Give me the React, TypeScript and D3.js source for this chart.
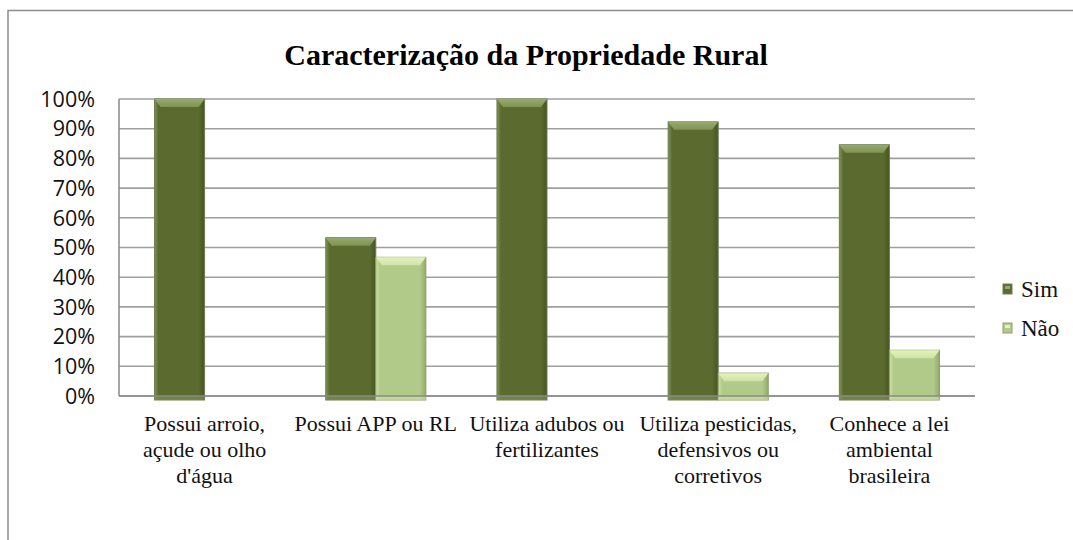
import React from 'react';
import * as d3 from 'd3';

// chart data
const categories = [
  "Possui arroio,\naçude ou olho\nd'água",
  'Possui APP ou RL',
  'Utiliza adubos ou\nfertilizantes',
  'Utiliza pesticidas,\ndefensivos ou\ncorretivos',
  'Conhece a lei\nambiental\nbrasileira'
];
const seriesNames = ['Sim', 'Não'];
const simValues = [100, 53.3, 100, 92.3, 84.6];
const naoValues = [0, 46.7, 0, 7.7, 15.4];
const yTicks = [0, 10, 20, 30, 40, 50, 60, 70, 80, 90, 100];

const W = 1073;
const H = 540;
const margin = { top: 99, left: 119, right: 98, bottom: 144 };

const palette = [
  { main: '#5b6b2f', edge: '#46551f', light: '#7f9352', top: '#97aa70', outline: '#6f7d55' },
  { main: '#b1ca8a', edge: '#93ab6a', light: '#cfe3a6', top: '#e4f3bb', outline: '#8e9f6c' }
];

const App: React.FC = () => {
  const x0 = d3.scaleBand<number>().domain(d3.range(categories.length)).range([margin.left, W - margin.right]).padding(0);
  const x1 = d3.scaleBand<number>().domain([0, 1]).range([0, x0.bandwidth()]).paddingInner(0).paddingOuter(0.71);
  const y = d3.scaleLinear().domain([0, 100]).range([H - margin.bottom, margin.top]);
  const y0 = y(0);
  const series = [simValues, naoValues];

  const bar = (v: number, ci: number, si: number) => {
    if (v <= 0) return null;
    const c = palette[si];
    const bx = (x0(ci) || 0) + (x1(si) || 0);
    const bw = x1.bandwidth();
    const top = y(v);
    const bottom = y0 + 4;
    const bev = 8;
    return <g key={`${ci}-${si}`}>
        <rect x={bx} y={top} width={bw} height={bottom - top} fill={`url(#grad${si})`} stroke={c.outline} strokeWidth={1} />
        <polygon points={`${bx},${top} ${bx + bw},${top} ${bx + bw - 6},${top + bev} ${bx + 6},${top + bev}`} fill={`url(#top${si})`} />
        <rect x={bx} y={y0} width={bw} height={4} fill={c.light} opacity={0.6} />
      </g>;
  };

  return <svg width={W} height={H} style={{ position: 'absolute', left: 0, top: 0, background: '#fff' }}>
      <defs>
        {palette.map((c, i) => <React.Fragment key={i}>
            <linearGradient id={`grad${i}`} x1="0" x2="1" y1="0" y2="0">
              <stop offset="0" stopColor={c.light} />
              <stop offset="0.08" stopColor={c.main} />
              <stop offset="0.88" stopColor={c.main} />
              <stop offset="1" stopColor={c.edge} />
            </linearGradient>
            <linearGradient id={`top${i}`} x1="0" x2="0" y1="0" y2="1">
              <stop offset="0" stopColor={c.top} />
              <stop offset="1" stopColor={c.light} />
            </linearGradient>
          </React.Fragment>)}
      </defs>
      {/* outer frame */}
      <rect x={8} y={10.5} width={1100} height={600} fill="none" stroke="#8c8c8c" strokeWidth={1.5} />
      <text x={526} y={65} textAnchor="middle" fontFamily="'Liberation Serif', 'Times New Roman', serif" fontWeight="bold" fontSize={30}>
        Caracterização da Propriedade Rural
      </text>
      {/* gridlines */}
      {yTicks.map(t => <line key={t} x1={margin.left} x2={W - margin.right} y1={y(t)} y2={y(t)} stroke="#9f9f9f" strokeWidth={1.6} />)}
      <line x1={margin.left} x2={margin.left} y1={margin.top} y2={y0} stroke="#8f8f8f" strokeWidth={1.6} />
      {/* y labels */}
      {yTicks.map(t => <text key={t} x={95} y={y(t)} dy="0.36em" textAnchor="end" fontFamily="'Open Sans', sans-serif" fontSize={21.5} fill="#111">
          {t}%
        </text>)}
      {/* bars */}
      {categories.map((_, ci) => series.map((s, si) => bar(s[ci], ci, si)))}
      <line x1={margin.left} x2={W - margin.right} y1={y0} y2={y0} stroke="#8a8a8a" strokeWidth={1.6} />
      {/* category labels */}
      {categories.map((cat, ci) => <text key={ci} textAnchor="middle" fontFamily="'Liberation Serif', 'Times New Roman', serif" fontSize={22} fill="#111">
          {cat.split('\n').map((line, li) => <tspan key={li} x={(x0(ci) || 0) + x0.bandwidth() / 2} y={431 + li * 26}>
              {line}
            </tspan>)}
        </text>)}
      {/* legend */}
      {seriesNames.map((name, i) => <g key={name} transform={`translate(1003, ${289 + i * 39})`}>
          <rect x={0} y={-5} width={9} height={10} fill={palette[i].main} stroke={palette[i].outline} strokeWidth={1} />
          <rect x={2} y={-3} width={5} height={3} fill={palette[i].top} />
          <text x={18} y={0} dy="0.35em" fontFamily="'Liberation Serif', 'Times New Roman', serif" fontSize={23} fill="#111">
            {name}
          </text>
        </g>)}
    </svg>;
};

export default App;
